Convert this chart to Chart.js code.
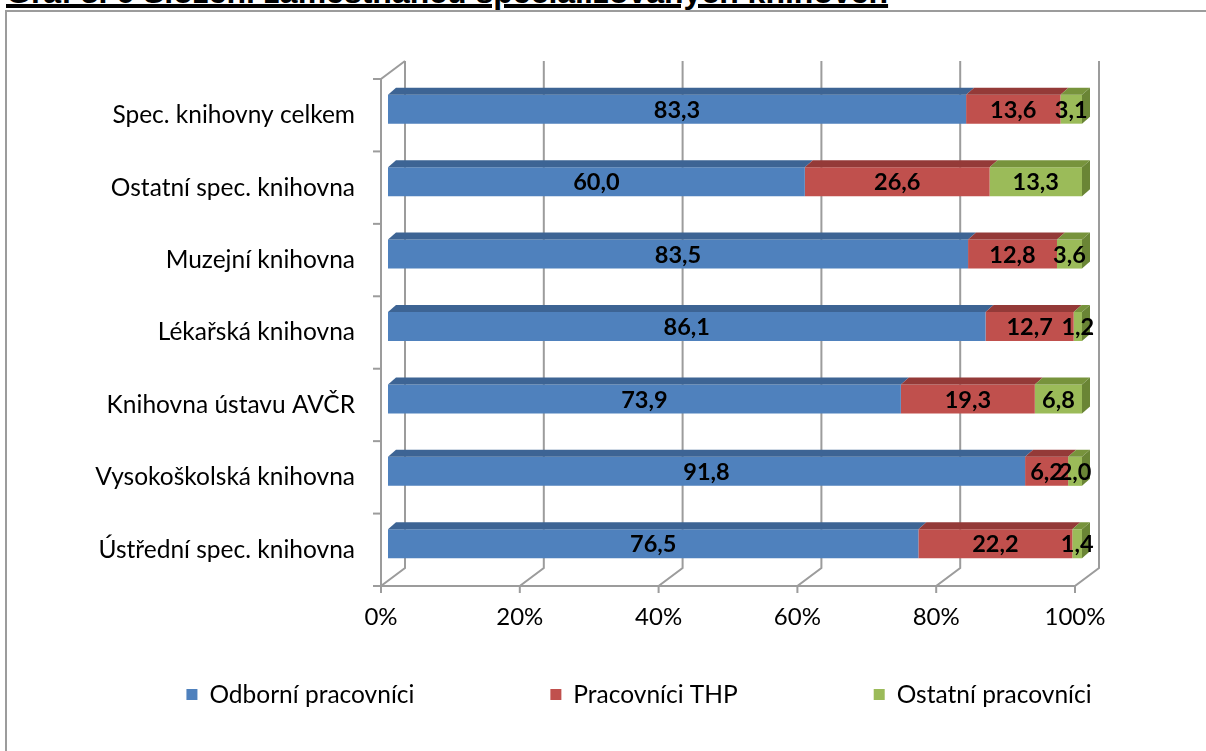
<!DOCTYPE html>
<html>
<head>
<meta charset="utf-8">
<script src="https://cdn.jsdelivr.net/npm/chart.js@4"></script>
<style>
html, body { margin: 0; padding: 0; background: #fff; overflow: hidden; }
#title { position: absolute; left: 6px; top: -24px; font: bold 32px "Liberation Sans", Arial, sans-serif; line-height: 32px;
  text-decoration: underline; text-decoration-thickness: 4px; text-underline-offset: 1px; white-space: nowrap; color: #000; }
#frame { position: absolute; left: 5px; top: 10px; width: 1400px; height: 900px; border: 2px solid #9c9c9c; }
#myChart { position: absolute; left: 0; top: 0; }
</style>
</head>
<body>
<div id="title">Graf 3. 6 Složení zaměstnanců specializovaných knihoven</div>
<div id="frame"></div>
<canvas id="myChart" width="1206" height="751"></canvas>
<script>
// data (shares in %)
var categories = ['Spec. knihovny celkem', 'Ostatní spec. knihovna', 'Muzejní knihovna', 'Lékařská knihovna',
                  'Knihovna ústavu AVČR', 'Vysokoškolská knihovna', 'Ústřední spec. knihovna'];
var odborni = [83.3, 60.0, 83.5, 86.1, 73.9, 91.8, 76.5];
var thp     = [13.6, 26.6, 12.8, 12.7, 19.3, 6.2, 22.2];
var ostatni = [3.1, 13.3, 3.6, 1.2, 6.8, 2.0, 1.4];
var seriesNames = ['Odborní pracovníci', 'Pracovníci THP', 'Ostatní pracovníci'];
var xTicks = [0, 20, 40, 60, 80, 100];

var faceColors = ['#4F81BD', '#C0504D', '#9BBB59'];
var topColors  = ['#3D6494', '#943A38', '#77933C'];
var sideColors = ['#375A87', '#86332F', '#6A8535'];

// 100% stacked -> normalise each row
var raw = [odborni, thp, ostatni];
var totals = categories.map(function(c, i){ return raw.reduce(function(s, a){ return s + a[i]; }, 0); });
function share(arr){ return arr.map(function(v, i){ return v / totals[i] * 100; }); }

Chart.defaults.font.family = 'Lato, "Open Sans", sans-serif';
Chart.defaults.color = '#000';

var fmt = function(v){ return v.toFixed(1).replace('.', ','); };

// fake 3d: back wall, floor, bar tops/sides, value labels, legend
var bar3d = {
  id: 'bar3d',
  beforeDatasetsDraw: function(chart){
    var ctx = chart.ctx, a = chart.chartArea, xs = chart.scales.x;
    var fy = a.bottom + 6, by = a.bottom - 12;
    ctx.save();
    ctx.strokeStyle = '#9c9c9c';
    ctx.lineWidth = 2;
    xTicks.forEach(function(v){
      var px = xs.getPixelForValue(v);
      ctx.beginPath();
      ctx.moveTo(px + 17, a.top - 12);
      ctx.lineTo(px + 17, by);
      ctx.lineTo(px - 7, fy);
      ctx.lineTo(px - 7, fy + 7);
      ctx.stroke();
    });
    ctx.beginPath();
    ctx.moveTo(xs.getPixelForValue(0) - 7, fy);
    ctx.lineTo(xs.getPixelForValue(100) - 7, fy);
    ctx.stroke();
    var lx = a.left - 7;
    ctx.beginPath();
    ctx.moveTo(a.left + 17, a.top - 12);
    ctx.lineTo(lx, a.top + 6);
    ctx.lineTo(lx, fy);
    ctx.stroke();
    var band = (a.bottom - a.top) / categories.length;
    for (var k = 0; k <= categories.length; k++) {
      var ty = a.top + 6 + k * band;
      ctx.beginPath();
      ctx.moveTo(lx - 8, ty);
      ctx.lineTo(lx, ty);
      ctx.stroke();
    }
    ctx.restore();
  },
  afterDatasetsDraw: function(chart){
    var ctx = chart.ctx, n = chart.data.datasets.length;
    ctx.save();
    for (var i = 0; i < n; i++) {
      chart.getDatasetMeta(i).data.forEach(function(el){
        var p = el.getProps(['x', 'y', 'base', 'height'], true);
        var t = p.y - p.height / 2;
        ctx.fillStyle = topColors[i];
        ctx.beginPath();
        ctx.moveTo(p.base, t);
        ctx.lineTo(p.x, t);
        ctx.lineTo(p.x + 8, t - 7);
        ctx.lineTo(p.base + 8, t - 7);
        ctx.closePath();
        ctx.fill();
        if (i === n - 1) {
          ctx.fillStyle = sideColors[i];
          ctx.beginPath();
          ctx.moveTo(p.x, t);
          ctx.lineTo(p.x + 8, t - 7);
          ctx.lineTo(p.x + 8, t - 7 + p.height);
          ctx.lineTo(p.x, t + p.height);
          ctx.closePath();
          ctx.fill();
        }
      });
    }
    ctx.font = 'bold 23.5px Lato, sans-serif';
    ctx.fillStyle = '#000';
    ctx.textAlign = 'center';
    ctx.textBaseline = 'middle';
    for (var i = 0; i < n; i++) {
      chart.getDatasetMeta(i).data.forEach(function(el, j){
        var p = el.getProps(['x', 'y', 'base'], true);
        ctx.fillText(fmt(raw[i][j]), (p.base + p.x) / 2, p.y + 1);
      });
    }
    ctx.restore();
  },
  afterDraw: function(chart){
    var ctx = chart.ctx, ds = chart.data.datasets;
    ctx.save();
    ctx.font = '24.5px Lato, sans-serif';
    ctx.textBaseline = 'middle';
    var gap = 136, box = 11, pad = 12;
    var widths = ds.map(function(d){ return box + pad + ctx.measureText(d.label).width; });
    var total = widths.reduce(function(s, w){ return s + w; }, 0) + gap * (ds.length - 1);
    var x = 639 - total / 2, y = 695;
    ds.forEach(function(d, i){
      ctx.fillStyle = d.backgroundColor;
      ctx.fillRect(x, y - 6, box, 11);
      ctx.fillStyle = '#000';
      ctx.fillText(d.label, x + box + pad, y);
      x += widths[i] + gap;
    });
    ctx.restore();
  }
};

var ctx = document.getElementById('myChart').getContext('2d');
var myChart = new Chart(ctx, {
  type: 'bar',
  data: {
    labels: categories,
    datasets: raw.map(function(arr, i){
      return {
        label: seriesNames[i],
        data: share(arr),
        backgroundColor: faceColors[i],
        borderWidth: 0,
        barPercentage: 1,
        categoryPercentage: 0.4
      };
    })
  },
  options: {
    indexAxis: 'y',
    responsive: false,
    animation: false,
    layout: { padding: { top: 73, right: 124, left: 0, bottom: 0 } },
    plugins: { legend: { display: false }, tooltip: { enabled: false } },
    scales: {
      x: {
        stacked: true, min: 0, max: 100,
        grid: { display: false, drawTicks: false },
        border: { display: false },
        ticks: { stepSize: 20, maxRotation: 0, callback: function(v){ return v + '%'; },
                 labelOffset: -7, padding: 23, font: { size: 24 } },
        afterFit: function(s){ s.height = 171; }
      },
      y: {
        stacked: true,
        grid: { display: false, drawTicks: false },
        border: { display: false },
        ticks: { labelOffset: 6, padding: 33, font: { size: 24.5 } },
        afterFit: function(s){ s.width = 388; }
      }
    }
  },
  plugins: [bar3d]
});
</script>
</body>
</html>
